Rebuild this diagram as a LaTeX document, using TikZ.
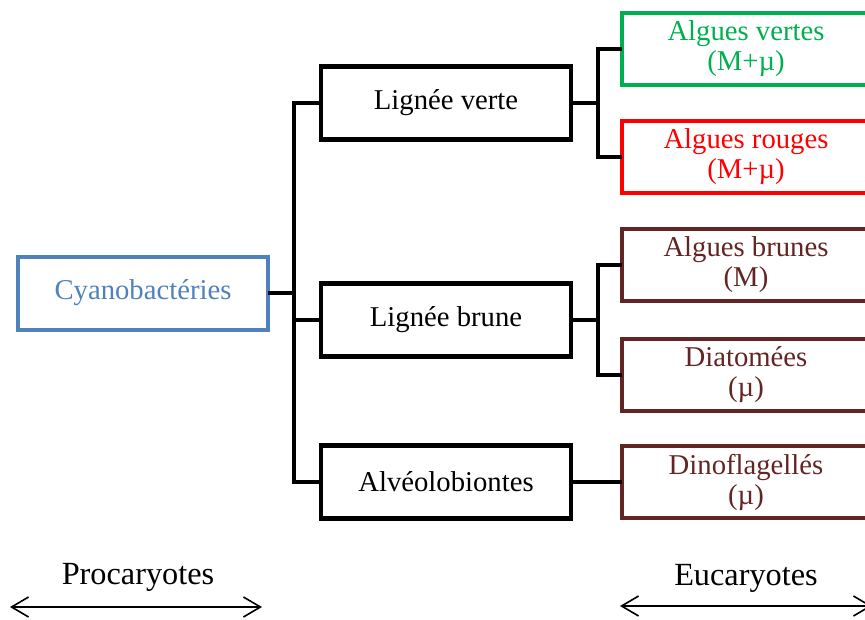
\documentclass[tikz,border=0pt]{standalone}
\usepackage{fontspec}
\setmainfont{Liberation Serif}
\usetikzlibrary{arrows.meta}
\definecolor{cyanblue}{HTML}{4F81BD}
\definecolor{algvert}{HTML}{00B050}
\definecolor{algrouge}{HTML}{FF0000}
\definecolor{algbrun}{HTML}{632523}
\begin{document}
\begin{tikzpicture}[x=1pt,y=-1pt,
  txt/.style={font=\fontsize{28.7}{30}\selectfont, align=center, inner sep=0pt},
  bigtxt/.style={font=\fontsize{32.3}{34}\selectfont, align=center, inner sep=0pt},
  blackbox/.style={txt, draw=black, line width=4.5pt, minimum width=250pt, minimum height=73pt},
  colbox/.style={txt, draw=#1, text=#1, line width=4pt, minimum width=248pt, minimum height=72pt},
  link/.style={line width=4.5pt, line cap=rect},
  span/.style={line width=2pt, {Straight Barb[length=17pt,width=20pt,line width=1.6pt]}-{Straight Barb[length=17pt,width=20pt,line width=1.6pt]}}
]
\useasboundingbox (0,0) rectangle (865,619);
\begin{scope}
\clip (0,0) rectangle (865,619);
% left
\node[colbox=cyanblue, minimum width=250pt, minimum height=73pt] (cyano) at (143,293) {Cyanobactéries};
% middle
\node[blackbox] (lv) at (446,103) {Lignée verte};
\node[blackbox] (lb) at (446,320) {Lignée brune};
\node[blackbox] (alv) at (446,482) {Alvéolobiontes};
% right
\node[colbox=algvert] (av) at (746,49) {Algues vertes\\(M+µ)};
\node[colbox=algrouge] (ar) at (746,157) {Algues rouges\\(M+µ)};
\node[colbox=algbrun] (ab) at (746,265) {Algues brunes\\(M)};
\node[colbox=algbrun] (dia) at (746,375) {Diatomées\\(µ)};
\node[colbox=algbrun] (dino) at (746,482) {Dinoflagellés\\(µ)};
% connectors left
\coordinate (trunkA) at (294,0);
\draw[link] (cyano.east) -- (cyano.east -| trunkA);
\draw[link] (lv.west -| trunkA) -- (alv.west -| trunkA);
\draw[link] (lv.west -| trunkA) -- (lv.west);
\draw[link] (lb.west -| trunkA) -- (lb.west);
\draw[link] (alv.west -| trunkA) -- (alv.west);
% connectors right
\coordinate (trunkB) at (598,0);
\draw[link] (lv.east) -- (lv.east -| trunkB);
\draw[link] (av.west -| trunkB) -- (ar.west -| trunkB);
\draw[link] (av.west -| trunkB) -- (av.west);
\draw[link] (ar.west -| trunkB) -- (ar.west);
\draw[link] (lb.east) -- (lb.east -| trunkB);
\draw[link] (ab.west -| trunkB) -- (dia.west -| trunkB);
\draw[link] (ab.west -| trunkB) -- (ab.west);
\draw[link] (dia.west -| trunkB) -- (dia.west);
\draw[link] (alv.east) -- (dino.west);
% bottom
\node[bigtxt] (pro) at (138,577) {Procaryotes};
\node[bigtxt] (euc) at (746,578) {Eucaryotes};
\coordinate (proL) at (10,607);
\coordinate (proR) at (262,607);
\coordinate (eucL) at (620,606);
\coordinate (eucR) at (872,606);
\draw[span] (proL) -- (proR);
\draw[span] (eucL) -- (eucR);
\end{scope}
\end{tikzpicture}
\end{document}
